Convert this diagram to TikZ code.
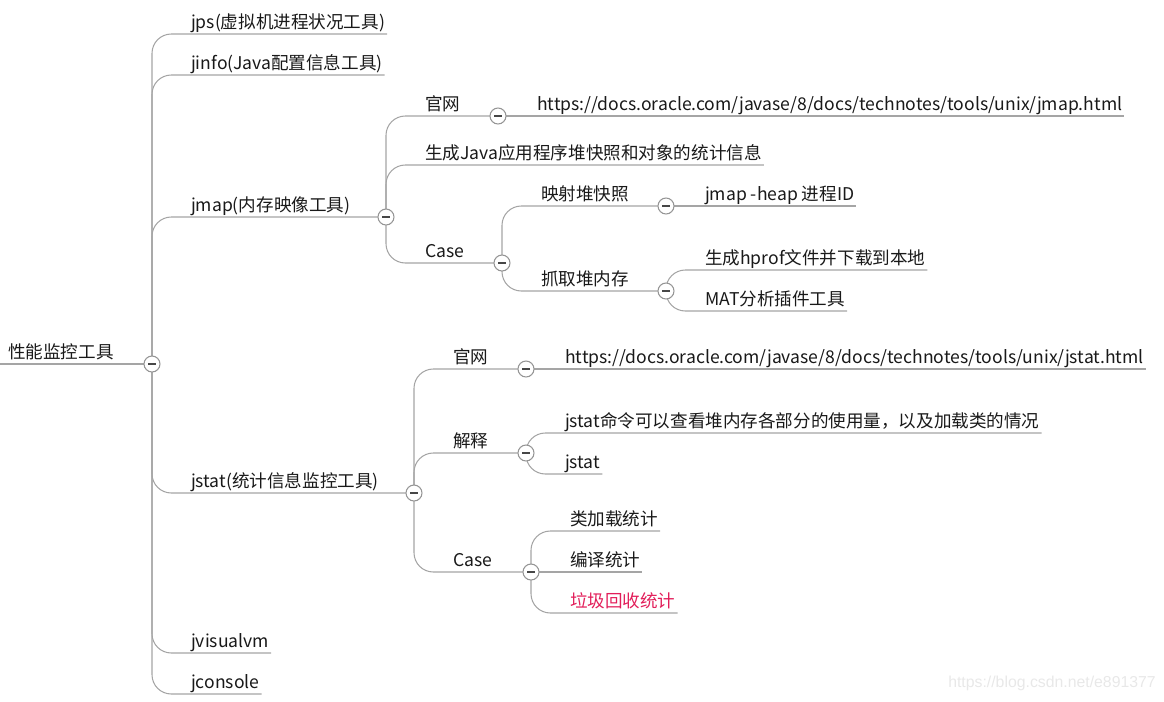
\documentclass[tikz,border=0pt]{standalone}
\usepackage{fontspec}
\setmainfont{Noto Sans CJK SC}
\newfontfamily\wmfont{Liberation Sans}
\definecolor{linegray}{RGB}{165,165,165}
\definecolor{txt}{RGB}{25,25,25}
\definecolor{hot}{RGB}{226,30,90}
\definecolor{wmgray}{RGB}{232,232,232}
\tikzset{
  topic/.style={anchor=south west, inner xsep=1pt, inner ysep=3pt, text depth=0pt, text=txt, font=\fontsize{10pt}{12pt}\selectfont},
  branch/.style={draw=linegray, line width=0.6pt, rounded corners=11pt},
  fold/.style={circle, draw=linegray!90!black, fill=white, line width=0.6pt, minimum size=0.32cm, inner sep=0pt,
    path picture={\draw[txt!80, line width=0.75pt] ([xshift=-0.08cm]path picture bounding box.center) -- ([xshift=0.08cm]path picture bounding box.center);}},
  wmark/.style={text=wmgray, font=\wmfont\fontsize{9pt}{11pt}\selectfont}
}
\begin{document}
\begin{tikzpicture}[x=0.02cm, y=-0.02cm]
  \useasboundingbox (0,0) rectangle (1164,701);
  % fold points
  \coordinate (rootc) at (152,364);
  \coordinate (jmapc) at (386,217);  \coordinate (jstatc) at (414,493);
  \coordinate (mgwc) at (498,116);   \coordinate (mcasec) at (502,263);
  \coordinate (mapc) at (666,206);   \coordinate (grabc) at (666,291);
  \coordinate (sgwc) at (526,369);   \coordinate (explc) at (526,453);  \coordinate (scasec) at (531,572);

  % topics
  \node[topic, inner xsep=4.5pt] (root) at (0,364) {性能监控工具};
  \node[topic] (jps)       at (189,34)  {jps(虚拟机进程状况工具)};
  \node[topic] (jinfo)     at (189,75)  {jinfo(Java配置信息工具)};
  \node[topic] (jmap)      at (189,217) {jmap(内存映像工具)};
  \node[topic] (jstat)     at (189,493) {jstat(统计信息监控工具)};
  \node[topic] (jvisualvm) at (189,653) {jvisualvm};
  \node[topic] (jconsole)  at (189,694) {jconsole};

  \node[topic] (mgw)   at (423,116) {官网};
  \node[topic] (murl)  at (535,116) {https://docs.oracle.com/javase/8/docs/technotes/tools/unix/jmap.html};
  \node[topic] (gen)   at (423,165) {生成Java应用程序堆快照和对象的统计信息};
  \node[topic] (mcase) at (423,263) {Case};
  \node[topic] (map)   at (539,206) {映射堆快照};
  \node[topic] (heap)  at (703,206) {jmap -heap 进程ID};
  \node[topic] (grab)  at (539,291) {抓取堆内存};
  \node[topic] (hprof) at (703,270) {生成hprof文件并下载到本地};
  \node[topic] (mat)   at (703,311) {MAT分析插件工具};

  \node[topic] (sgw)   at (451,369) {官网};
  \node[topic] (surl)  at (563,369) {https://docs.oracle.com/javase/8/docs/technotes/tools/unix/jstat.html};
  \node[topic] (expl)  at (451,453) {解释};
  \node[topic] (desc)  at (563,433) {jstat命令可以查看堆内存各部分的使用量，以及加载类的情况};
  \node[topic] (jcmd)  at (563,474) {jstat};
  \node[topic] (scase) at (451,572) {Case};
  \node[topic] (cls)   at (568,531) {类加载统计};
  \node[topic] (comp)  at (568,572) {编译统计};
  \node[topic, text=hot] (gc) at (568,613) {垃圾回收统计};

  % connectors
  \draw[branch] (root.south west) -- (rootc);
  \foreach \t in {jps, jinfo, jvisualvm, jconsole} \draw[branch] (rootc) |- (\t.south east);
  \draw[branch] (rootc) |- (jmapc);
  \draw[branch] (rootc) |- (jstatc);

  \draw[branch] (jmapc) |- (mgwc);   \draw[branch] (mgwc) -- (murl.south east);
  \draw[branch] (jmapc) |- (gen.south east);
  \draw[branch] (jmapc) |- (mcasec);
  \draw[branch] (mcasec) |- (mapc);  \draw[branch] (mapc) -- (heap.south east);
  \draw[branch] (mcasec) |- (grabc);
  \draw[branch] (grabc) |- (hprof.south east);
  \draw[branch] (grabc) |- (mat.south east);

  \draw[branch] (jstatc) |- (sgwc);  \draw[branch] (sgwc) -- (surl.south east);
  \draw[branch] (jstatc) |- (explc);
  \draw[branch] (explc) |- (desc.south east);
  \draw[branch] (explc) |- (jcmd.south east);
  \draw[branch] (jstatc) |- (scasec);
  \draw[branch] (scasec) |- (cls.south east);
  \draw[branch] (scasec) -- (comp.south east);
  \draw[branch] (scasec) |- (gc.south east);

  \foreach \c in {rootc, jmapc, jstatc, mgwc, mcasec, mapc, grabc, sgwc, explc, scasec}
    \node[fold] at (\c) {};

  \node[wmark] (wm) at (1052,683) {https://blog.csdn.net/e891377};
\end{tikzpicture}
\end{document}
